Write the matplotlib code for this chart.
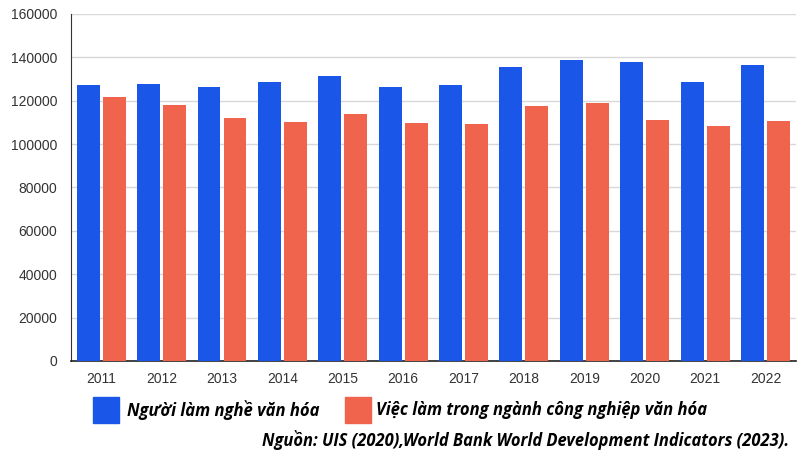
import matplotlib
matplotlib.use('Agg')
import matplotlib.pyplot as plt
import numpy as np
from matplotlib.patches import Rectangle

years = ['2011', '2012', '2013', '2014', '2015', '2016',
         '2017', '2018', '2019', '2020', '2021', '2022']
nguoi_lam_nghe = [127400, 127500, 126200, 128600, 131500, 126300,
                  127100, 135400, 138900, 137800, 128800, 136200]
viec_lam_cn = [121600, 118000, 112000, 110200, 113700, 109900,
               109400, 117600, 118800, 111000, 108500, 110500]
yticks = [0, 20000, 40000, 60000, 80000, 100000, 120000, 140000, 160000]

label_a = 'Người làm nghề văn hóa'
label_b = 'Việc làm trong ngành công nghiệp văn hóa'
source = 'Nguồn: UIS (2020),World Bank World Development Indicators (2023).'

blue = '#1a56e8'
red = '#f0644e'

fig = plt.figure(figsize=(8.07, 4.61), dpi=100)
ax = fig.add_axes([0.088, 0.217, 0.898, 0.753])

x = np.arange(len(years))
w = 0.38
ax.bar(x - 0.215, nguoi_lam_nghe, w, color=blue, zorder=3)
ax.bar(x + 0.215, viec_lam_cn, w, color=red, zorder=3)

ax.set_xlim(-0.5, len(years) - 0.5)
ax.set_ylim(0, 160000)
ax.set_yticks(yticks)
ax.set_yticklabels([str(v) for v in yticks], fontfamily='Liberation Sans', fontsize=10, color='#333333')
ax.set_xticks(x)
ax.set_xticklabels(years, fontfamily='Liberation Sans', fontsize=10, color='#333333')
ax.tick_params(length=0, axis='y', pad=10)
ax.tick_params(length=0, axis='x', pad=8)
ax.grid(axis='y', color='#d8d8d8', linewidth=1, zorder=0)
for s in ['top', 'right']:
    ax.spines[s].set_visible(False)
ax.spines['left'].set_color('#333333')
ax.spines['bottom'].set_color('#222222')
ax.spines['bottom'].set_linewidth(1.2)

fam = ['Liberation Sans Narrow', 'Open Sans', 'DejaVu Sans']
W, H = 807.0, 461.0
fig.patches.append(Rectangle((93 / W, 1 - 423 / H), 26 / W, 26 / H,
                             transform=fig.transFigure, color=blue))
fig.patches.append(Rectangle((345 / W, 1 - 423 / H), 26 / W, 26 / H,
                             transform=fig.transFigure, color=red))
fig.text(127 / W, 1 - 410 / H, label_a, family=fam, fontsize=12,
         fontweight='bold', fontstyle='italic', va='center', ha='left')
fig.text(376 / W, 1 - 410 / H, label_b, family=fam, fontsize=12,
         fontweight='bold', fontstyle='italic', va='center', ha='left')
fig.text(789 / W, 1 - 440 / H, source, family=fam, fontsize=11.9,
         fontweight='bold', fontstyle='italic', va='center', ha='right')

fig.savefig('out.png', dpi=100)
